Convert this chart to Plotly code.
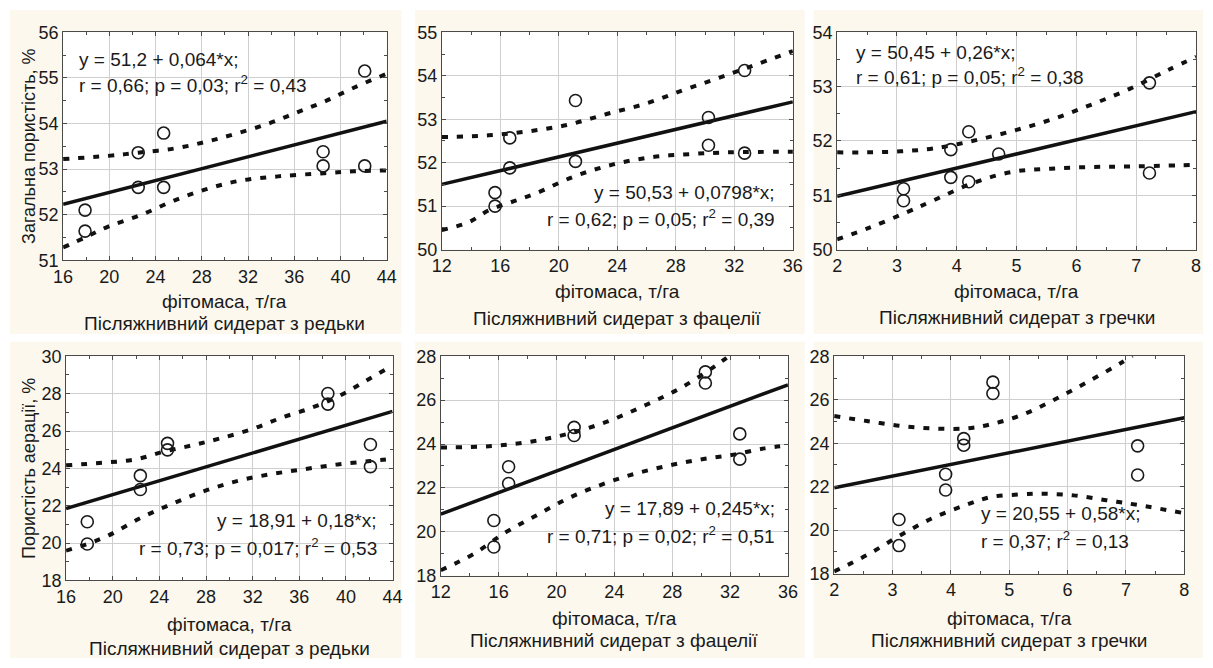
import plotly.graph_objects as go

# ---------------- data ----------------
x_title = "фітомаса, т/га"
panel_titles = ["Післяжнивний сидерат з редьки", "Післяжнивний сидерат з фацелії",
                "Післяжнивний сидерат з гречки", "Післяжнивний сидерат з редьки",
                "Післяжнивний сидерат з фацелії", "Післяжнивний сидерат з гречки"]
y_titles = ["Загальна пористість, %", "Пористість аерації, %"]
equations = [
    ["y = 51,2 + 0,064*x;", "r = 0,66; p = 0,03; r<sup>2</sup> = 0,43"],
    ["y = 50,53 + 0,0798*x;", "r = 0,62; p = 0,05; r<sup>2</sup> = 0,39"],
    ["y = 50,45 + 0,26*x;", "r = 0,61; p = 0,05; r<sup>2</sup> = 0,38"],
    ["y = 18,91 + 0,18*x;", "r = 0,73; p = 0,017; r<sup>2</sup> = 0,53"],
    ["y = 17,89 + 0,245*x;", "r = 0,71; p = 0,02; r<sup>2</sup> = 0,51"],
    ["y = 20,55 + 0,58*x;", "r = 0,37; r<sup>2</sup> = 0,13"],
]

# panel 1: radish, total porosity
p1_x = [17.9, 17.9, 22.5, 22.5, 24.7, 24.7, 38.5, 38.5, 42.1, 42.1]
p1_y = [52.1, 51.64, 53.36, 52.6, 53.79, 52.6, 53.38, 53.07, 55.15, 53.07]
p1_fit_x = [16, 44]
p1_fit_y = [52.23, 54.05]
p1_up_x = [16, 19.9, 22.5, 25.6, 28.4, 31.0, 33.8, 36.2, 38.6, 41.2, 44]
p1_up_y = [53.22, 53.29, 53.36, 53.45, 53.60, 53.78, 54.0, 54.24, 54.48, 54.79, 55.09]
p1_lo_x = [16, 17.9, 19.9, 22.7, 25.6, 28.4, 31.2, 34.6, 38.6, 41.2, 44]
p1_lo_y = [51.28, 51.5, 51.74, 51.99, 52.31, 52.56, 52.74, 52.84, 52.91, 52.95, 52.97]

# panel 2: phacelia, total porosity
p2_x = [15.64, 15.64, 16.65, 16.65, 21.14, 21.14, 30.23, 30.23, 32.7, 32.7]
p2_y = [51.31, 51.0, 52.57, 51.88, 53.43, 52.03, 53.04, 52.4, 54.12, 52.22]
p2_fit_x = [12, 36]
p2_fit_y = [51.5, 53.4]
p2_up_x = [12, 15.19, 17.88, 20.58, 23.27, 25.96, 28.43, 30.68, 32.93, 36]
p2_up_y = [52.59, 52.63, 52.72, 52.87, 53.12, 53.36, 53.66, 53.92, 54.19, 54.57]
p2_lo_x = [12, 13.84, 15.19, 16.65, 18.33, 21.03, 23.72, 26.41, 29.1, 31.8, 36]
p2_lo_y = [50.45, 50.63, 50.9, 51.08, 51.28, 51.68, 51.96, 52.13, 52.2, 52.24, 52.25]

# panel 3: buckwheat, total porosity
p3_x = [3.11, 3.11, 3.9, 3.9, 4.2, 4.2, 4.7, 7.22, 7.22]
p3_y = [51.12, 50.9, 51.84, 51.33, 52.17, 51.25, 51.76, 53.07, 51.41]
p3_fit_x = [2, 8]
p3_fit_y = [50.98, 52.54]
p3_up_x = [2, 2.51, 3.06, 3.6, 4.26, 4.92, 5.57, 6.23, 6.89, 7.54, 8]
p3_up_y = [51.79, 51.79, 51.81, 51.86, 52.0, 52.18, 52.39, 52.66, 52.96, 53.31, 53.55]
p3_lo_x = [2, 2.51, 3.17, 3.6, 4.26, 4.92, 5.57, 6.23, 6.89, 8]
p3_lo_y = [50.19, 50.39, 50.69, 50.9, 51.22, 51.43, 51.49, 51.52, 51.53, 51.56]

# panel 4: radish, aeration porosity
p4_x = [17.82, 17.82, 22.37, 22.37, 24.7, 24.7, 38.45, 38.45, 42.1, 42.1]
p4_y = [21.14, 19.95, 23.61, 22.87, 25.34, 24.99, 28.01, 27.44, 25.28, 24.09]
p4_fit_x = [16, 44]
p4_fit_y = [21.85, 27.05]
p4_up_x = [16, 19.09, 21.89, 24.42, 26.94, 29.19, 31.99, 34.52, 37.04, 39.29, 41.53, 44]
p4_up_y = [24.16, 24.30, 24.47, 24.9, 25.25, 25.6, 26.11, 26.72, 27.24, 27.84, 28.62, 29.52]
p4_lo_x = [16, 17.96, 19.65, 22.45, 25.26, 28.06, 30.87, 33.68, 36.49, 39.29, 42.1, 44]
p4_lo_y = [19.59, 19.98, 20.41, 21.36, 22.14, 22.83, 23.35, 23.70, 23.96, 24.21, 24.39, 24.51]

# panel 5: phacelia, aeration porosity
p5_x = [15.67, 15.67, 16.69, 16.69, 21.22, 21.22, 30.29, 30.29, 32.67, 32.67]
p5_y = [20.51, 19.3, 22.96, 22.2, 24.76, 24.39, 27.29, 26.78, 24.46, 23.31]
p5_fit_x = [12, 36]
p5_fit_y = [20.8, 26.7]
p5_up_x = [12, 15.33, 18.05, 20.77, 23.49, 26.21, 28.7, 30.97, 31.76]
p5_up_y = [23.84, 23.9, 24.09, 24.46, 25.02, 25.79, 26.6, 27.56, 27.93]
p5_lo_x = [12, 14.31, 16.46, 18.5, 20.77, 23.04, 25.3, 27.57, 29.83, 32.1, 34.37, 36]
p5_lo_y = [18.24, 19.0, 19.96, 20.7, 21.51, 22.13, 22.62, 22.99, 23.28, 23.5, 23.8, 23.94]

# panel 6: buckwheat, aeration porosity
p6_x = [3.11, 3.11, 3.91, 3.91, 4.22, 4.22, 4.72, 4.72, 7.2, 7.2]
p6_y = [20.49, 19.29, 22.57, 21.85, 24.21, 23.91, 26.81, 26.29, 23.88, 22.54]
p6_fit_x = [2, 8]
p6_fit_y = [21.95, 25.17]
p6_up_x = [2, 2.56, 3.12, 3.69, 4.25, 4.7, 5.26, 5.82, 6.38, 6.92, 7.11]
p6_up_y = [25.25, 25.02, 24.8, 24.68, 24.68, 24.88, 25.35, 26.07, 26.88, 27.7, 28.03]
p6_lo_x = [2, 2.56, 3.12, 3.69, 4.25, 4.7, 5.26, 5.54, 6.1, 6.66, 7.22, 8]
p6_lo_y = [18.1, 18.85, 19.74, 20.56, 21.15, 21.53, 21.65, 21.68, 21.6, 21.38, 21.15, 20.78]

x_ranges = [[16, 44], [12, 36], [2, 8], [16, 44], [12, 36], [2, 8]]
x_dticks = [4, 4, 1, 4, 4, 1]
y_ranges = [[51, 56], [50, 55], [50, 54], [18, 30], [18, 28], [18, 28]]
y_dticks = [1, 1, 1, 2, 2, 2]

# ---------------- layout geometry (pixels) ----------------
W, H = 1213, 668
FONT = "Liberation Sans, Arial, sans-serif"
plot_px = [  # left, right, top, bottom
    (54, 383, 23, 258), (439, 796, 23, 247), (841, 1206, 23, 247),
    (57, 389, 357, 588), (438, 791, 357, 583), (838, 1194, 357, 581),
]
cream_px = [(0, 398, 0, 334), (412, 808, 0, 334), (817, 1213, 0, 334),
            (0, 398, 342, 668), (412, 808, 342, 668), (817, 1213, 342, 668)]
xt_y = [301, 290, 290, 633, 627, 627]
pt_y = [323, 318, 317, 658, 650, 650]
eq_pos = [  # x px, y line1, y line2, anchor
    (68, 51, 76, "left"), (780, 188, 214, "right"), (858, 44, 68, "left"),
    (375, 526, 554, "right"), (780, 514, 541, "right"), (985, 519, 546, "left"),
]


def px(x):
    return x / W


def py(y):
    return 1 - y / H


data = [
    (p1_x, p1_y, p1_fit_x, p1_fit_y, p1_up_x, p1_up_y, p1_lo_x, p1_lo_y),
    (p2_x, p2_y, p2_fit_x, p2_fit_y, p2_up_x, p2_up_y, p2_lo_x, p2_lo_y),
    (p3_x, p3_y, p3_fit_x, p3_fit_y, p3_up_x, p3_up_y, p3_lo_x, p3_lo_y),
    (p4_x, p4_y, p4_fit_x, p4_fit_y, p4_up_x, p4_up_y, p4_lo_x, p4_lo_y),
    (p5_x, p5_y, p5_fit_x, p5_fit_y, p5_up_x, p5_up_y, p5_lo_x, p5_lo_y),
    (p6_x, p6_y, p6_fit_x, p6_fit_y, p6_up_x, p6_up_y, p6_lo_x, p6_lo_y),
]

fig = go.Figure()
layout = dict(
    width=W, height=H, margin=dict(l=0, r=0, t=0, b=0),
    paper_bgcolor="white", plot_bgcolor="white", showlegend=False,
    font=dict(family=FONT, size=18, color="#1a1a1a"),
)
shapes = []
annotations = []

for i, (xs, ys, fx, fy, ux, uy, lx, ly) in enumerate(data):
    n = "" if i == 0 else str(i + 1)
    xa, ya = "x" + n, "y" + n
    l, r, t, b = plot_px[i]
    band = dict(color="#111", width=4, dash="6px,9px")
    fig.add_trace(go.Scatter(x=ux, y=uy, mode="lines", line=band, line_shape="spline",
                             xaxis=xa, yaxis=ya, hoverinfo="skip"))
    fig.add_trace(go.Scatter(x=lx, y=ly, mode="lines", line=band, line_shape="spline",
                             xaxis=xa, yaxis=ya, hoverinfo="skip"))
    fig.add_trace(go.Scatter(x=fx, y=fy, mode="lines", line=dict(color="#111", width=3.5),
                             xaxis=xa, yaxis=ya))
    fig.add_trace(go.Scatter(x=xs, y=ys, mode="markers", cliponaxis=False,
                             marker=dict(symbol="circle-open", size=12, color="#1a1a1a",
                                         line=dict(width=1.6, color="#1a1a1a")),
                             xaxis=xa, yaxis=ya))
    axcommon = dict(showgrid=True, gridcolor="#cfcfcf", gridwidth=1, zeroline=False,
                    showline=True, linecolor="#4a4a4a", linewidth=1, mirror="ticks",
                    ticks="inside", ticklen=4, tickcolor="#4a4a4a",
                    tickfont=dict(family=FONT, size=18, color="#1a1a1a"))
    layout["xaxis" + n] = dict(axcommon, domain=[px(l), px(r)], anchor=ya, range=x_ranges[i],
                               dtick=x_dticks[i], tick0=x_ranges[i][0],
                               minor=dict(ticks="inside", ticklen=3, tickcolor="#4a4a4a",
                                          dtick=x_dticks[i] / 2, showgrid=False))
    layout["yaxis" + n] = dict(axcommon, domain=[py(b), py(t)], anchor=xa, range=y_ranges[i],
                               dtick=y_dticks[i], tick0=y_ranges[i][0], ticklabelstandoff=0,
                               minor=dict(ticks="inside", ticklen=3, tickcolor="#4a4a4a",
                                          dtick=y_dticks[i] / 2, showgrid=False))
    cl, cr, ct, cb = cream_px[i]
    shapes.append(dict(type="rect", xref="paper", yref="paper", x0=px(cl), x1=px(cr),
                       y0=py(cb), y1=py(ct), fillcolor="#fcf8ee", line=dict(width=0),
                       layer="below"))
    shapes.append(dict(type="rect", xref="paper", yref="paper", x0=px(l), x1=px(r),
                       y0=py(b), y1=py(t), fillcolor="white", line=dict(width=0),
                       layer="below"))
    cx = (l + r) / 2
    annotations.append(dict(text=x_title, x=px(cx), y=py(xt_y[i]), xref="paper", yref="paper",
                            showarrow=False, xanchor="center", yanchor="middle",
                            font=dict(size=19)))
    annotations.append(dict(text=panel_titles[i], x=px(cx), y=py(pt_y[i]), xref="paper",
                            yref="paper", showarrow=False, xanchor="center", yanchor="middle",
                            font=dict(size=19)))
    ex, ey1, ey2, anc = eq_pos[i]
    for txt, ey in ((equations[i][0], ey1), (equations[i][1], ey2)):
        annotations.append(dict(text=txt, x=px(ex), y=py(ey), xref="paper", yref="paper",
                                showarrow=False, xanchor=anc, yanchor="middle",
                                font=dict(size=19)))

for k, (l, r, t, b) in enumerate([plot_px[0], plot_px[3]]):
    annotations.append(dict(text=y_titles[k], x=px(20), y=py((t + b) / 2), xref="paper",
                            yref="paper", showarrow=False, textangle=-90,
                            xanchor="center", yanchor="middle", font=dict(size=18)))

layout["shapes"] = shapes
layout["annotations"] = annotations
fig.update_layout(**layout)
fig.write_html("out.html")
